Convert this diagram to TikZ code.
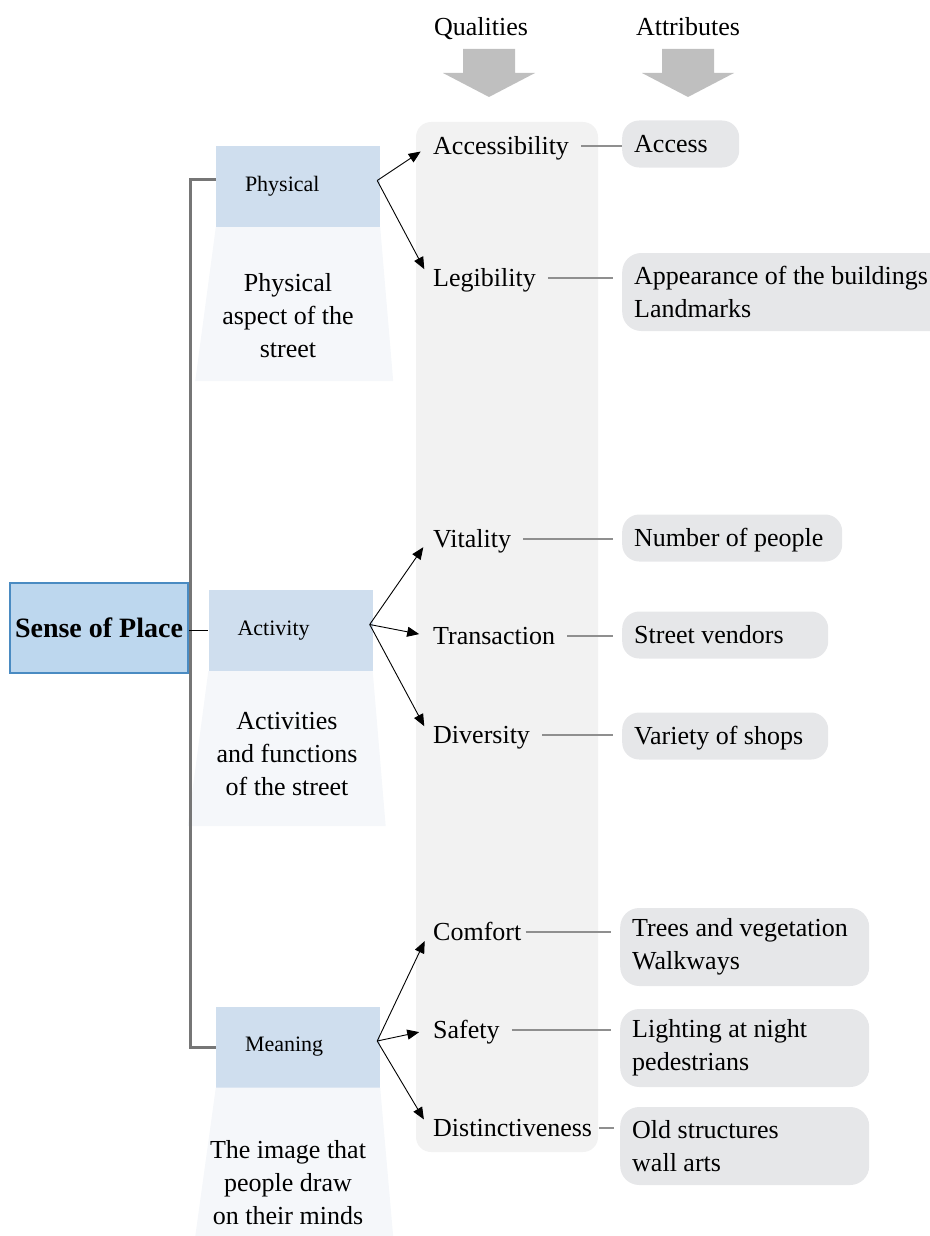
\documentclass[tikz,border=0pt]{standalone}
\usepackage{fontspec}
\setmainfont{Liberation Serif}
\usetikzlibrary{arrows.meta}

\definecolor{rootfill}{HTML}{BDD7EE}
\definecolor{rootline}{HTML}{4A8BC2}
\definecolor{catfill}{HTML}{CFDEEE}
\definecolor{descfill}{HTML}{F5F7FA}
\definecolor{colfill}{HTML}{F2F2F2}
\definecolor{attrfill}{HTML}{E6E7E9}
\definecolor{linkgray}{HTML}{8F8F8F}
\definecolor{spinegray}{HTML}{767676}
\definecolor{hdgray}{HTML}{BFBFBF}

\begin{document}
\begin{tikzpicture}[
  x=1pt, y=-1pt,
  font=\fontsize{26}{33}\selectfont,
  root/.style={draw=rootline, line width=1.5pt, fill=rootfill, minimum width=178pt,
               minimum height=90pt, font=\fontsize{28}{33}\selectfont\bfseries},
  cat/.style={fill=catfill, minimum height=81pt, inner xsep=29pt, text width=106pt,
              align=left, font=\fontsize{22}{26}\selectfont},
  desc/.style={fill=descfill},
  dtext/.style={align=center},
  hdr/.style={text height=17pt, text depth=0pt},
  qual/.style={anchor=west, inner sep=4pt, text height=17pt, text depth=0pt},
  attr/.style={anchor=west, fill=attrfill, rounded corners=17pt, inner xsep=12pt,
               text width=#1, align=flush left, minimum height=47pt},
  attrone/.style={attr=#1, text height=17pt, text depth=0pt},
  attrtwo/.style={attr=#1, minimum height=78pt, rounded corners=19pt},
  link/.style={draw=linkgray, line width=1.2pt, shorten <=8pt, shorten >=9pt},
  arr/.style={-{Triangle[length=12pt,width=10pt]}, line width=0.9pt, shorten >=10pt},
  spine/.style={draw=spinegray, line width=3pt},
  hdarr/.style={fill=hdgray}
]
\useasboundingbox (0,0) rectangle (929,1236);

\fill[colfill, rounded corners=15pt] (416,122) rectangle (598,1152);

\node[hdr] (qhd) at (481,27) {Qualities};
\node[hdr] (ahd) at (688,27) {Attributes};
\foreach \cx in {489,688}
  \fill[hdarr] (\cx-26,49) -- (\cx+26,49) -- (\cx+26,73) -- (\cx+46,73) -- (\cx,97)
    -- (\cx-46,73) -- (\cx-26,73) -- cycle;

\node[root] (root) at (99,628) {Sense of Place};
\node[cat]  (phy)  at (298,186.5) {Physical};
\node[cat]  (act)  at (290.5,630.5) {Activity};
\node[cat]  (mea)  at (298,1047) {Meaning};

% widening panels under each aspect
\foreach \c/\d in {phy/154, act/155, mea/149}
  \fill[desc] (\c.south west) -- (\c.south east) -- ++(13,\d) -- ++(-198,0) -- cycle;

\node[dtext] (phyd) at (288,316)  {Physical\\aspect of the\\street};
\node[dtext] (actd) at (287,754)  {Activities\\and functions\\of the street};
\node[dtext] (mead) at (288,1183) {The image that\\people draw\\on their minds};

\node[qual] (acc) at (429,146)  {Accessibility};
\node[qual] (leg) at (429,278)  {Legibility};
\node[qual] (vit) at (429,539)  {Vitality};
\node[qual] (tra) at (429,636)  {Transaction};
\node[qual] (div) at (429,735)  {Diversity};
\node[qual] (com) at (429,932)  {Comfort};
\node[qual] (saf) at (429,1030) {Safety};
\node[qual] (dis) at (429,1128) {Distinctiveness};

\node[attrone=93pt]  (access)  at (622,144)   {Access};
\node[attrtwo=330pt] (appear)  at (622,292)   {Appearance of the buildings\\Landmarks};
\node[attrone=196pt] (people)  at (622,538)   {Number of people};
\node[attrone=182pt] (vendors) at (622,635)   {Street vendors};
\node[attrone=182pt] (shops)   at (622,736)   {Variety of shops};
\node[attrtwo=225pt] (trees)   at (620,947)   {Trees and vegetation\\Walkways};
\node[attrtwo=225pt] (light)   at (620,1048)  {Lighting at night\\pedestrians};
\node[attrtwo=225pt] (old)     at (620,1146)  {Old structures\\wall arts};

\draw[spine] ([yshift=7pt]phy.west) -| ([xshift=2pt]root.east |- mea.west) -- (mea.west);
\draw[line width=1pt] (act.west -| root.east) -- (act.west);

\foreach \c/\q in {phy/acc, phy/leg, act/vit, act/tra, act/div, mea/com, mea/saf, mea/dis}
  \draw[arr] ([xshift=-3pt,yshift=6pt]\c.east) -- (\q.west);

\foreach \q/\a in {leg/appear, vit/people, tra/vendors, div/shops, saf/light}
  \draw[link] (\q.east) -- (\q.east -| \a.west);
\draw[link, shorten >=0pt] (acc.east) -- (acc.east -| access.west);
\draw[link, shorten <=0pt] (com.east) -- (com.east -| trees.west);
\draw[link, shorten <=3pt, shorten >=6pt] (dis.east) -- (dis.east -| old.west);
\end{tikzpicture}
\end{document}
